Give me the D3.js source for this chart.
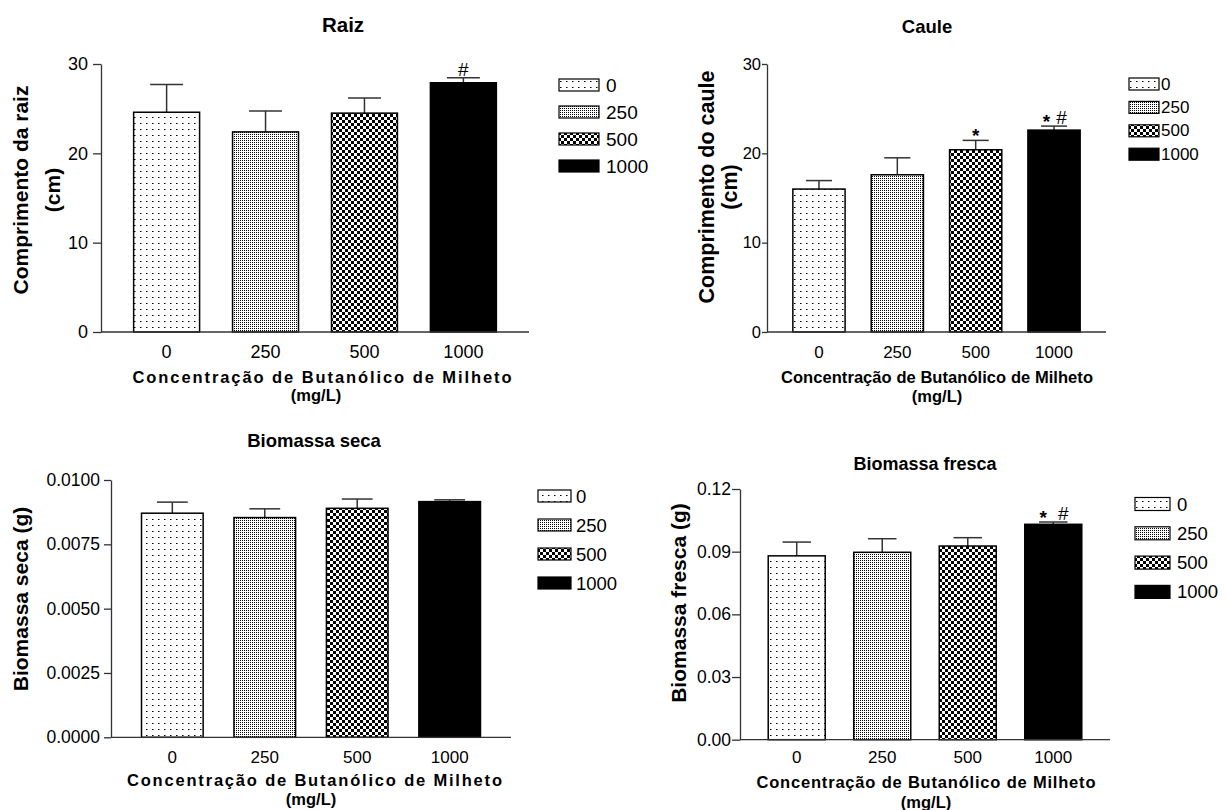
<!DOCTYPE html>
<html>
<head>
<meta charset="utf-8">
<script src="https://cdn.jsdelivr.net/npm/d3@7"></script>
<style>
  body { margin: 0; background: #fff; }
  text { font-family: "Liberation Sans", Arial, sans-serif; fill: #000; }
</style>
</head>
<body>
<svg id="chart" width="1225" height="810"></svg>
<script>
// data
const categories = ["0", "250", "500", "1000"];

const raizMean = [24.6, 22.4, 24.5, 27.9];
const raizErr = [3.1, 2.35, 1.7, 0.55];
const raizMarks = ["", "", "", "#"];
const raizTicks = [0, 10, 20, 30];

const cauleMean = [16.0, 17.6, 20.4, 22.6];
const cauleErr = [0.95, 1.9, 1.05, 0.45];
const cauleMarks = ["", "", "*", "*#"];
const cauleTicks = [0, 10, 20, 30];

const secaMean = [0.00871, 0.00854, 0.00890, 0.00916];
const secaErr = [0.00043, 0.00034, 0.00036, 0.00007];
const secaMarks = ["", "", "", ""];
const secaTicks = [0, 0.0025, 0.005, 0.0075, 0.01];

const frescaMean = [0.0880, 0.0897, 0.0927, 0.1031];
const frescaErr = [0.0066, 0.0065, 0.0040, 0.0011];
const frescaMarks = ["", "", "", "*#"];
const frescaTicks = [0, 0.03, 0.06, 0.09, 0.12];

const xTitle = "Concentração de Butanólico de Milheto";
const xUnit = "(mg/L)";

const svg = d3.select("#chart");

// fill patterns, one per concentration
const defs = svg.append("defs");
function pattern(id, w, h, cells) {
  const p = defs.append("pattern").attr("id", id)
    .attr("patternUnits", "userSpaceOnUse").attr("width", w).attr("height", h);
  p.append("rect").attr("width", w).attr("height", h).attr("fill", "#fff");
  cells.forEach(c => p.append("rect").attr("x", c[0]).attr("y", c[1])
    .attr("width", c[2]).attr("height", c[3]).attr("fill", "#000"));
}
pattern("pat0", 6, 6, [[2, 3, 1.5, 1]]);
pattern("pat1", 2, 2, [[0, 0, 1, 1]]);
pattern("pat2", 6, 6, [[0, 0, 3, 3], [3, 3, 3, 3]]);
pattern("pat3", 4, 4, [[0, 0, 4, 4]]);

const panels = [
  { title: "Raiz", tx: 343, ty: 24, tfs: 20.5,
    mean: raizMean, err: raizErr, marks: raizMarks, ticks: raizTicks, fmt: d3.format("d"), ymax: 30,
    x0: 101, x1: 529, yTop: 64, yBot: 332, tick: 8, tpad: 5, tfsY: 18, tfsX: 18, xLabY: 352,
    yTitle: ["Comprimento da raiz", "(cm)"], yTitleX: [20, 52], yTitleY: 190, yfs: 21,
    xtX: 322, xtY: 377, xtW: 379, xufX: 316, xuY: 395, xfs: 16.5,
    markGap: 15, markFs: 19,
    lx: 559, ly: 85, lw: 40, lh: 12, lstep: 27, ltx: 606, lfs: 19 },
  { title: "Caule", tx: 927, ty: 26, tfs: 18.5,
    mean: cauleMean, err: cauleErr, marks: cauleMarks, ticks: cauleTicks, fmt: d3.format("d"), ymax: 30,
    x0: 767, x1: 1106, yTop: 64, yBot: 332, tick: 5, tpad: 1, tfsY: 16.5, tfsX: 17, xLabY: 352,
    yTitle: ["Comprimento do caule", "(cm)"], yTitleX: [707, 730], yTitleY: 187, yfs: 21.5,
    xtX: 937, xtY: 377, xtW: 312, xufX: 937, xuY: 396, xfs: 16.5,
    markGap: 15, markFs: 19,
    lx: 1129, ly: 84, lw: 30, lh: 12, lstep: 23.4, ltx: 1161, lfs: 17 },
  { title: "Biomassa seca", tx: 314, ty: 440, tfs: 18.5,
    mean: secaMean, err: secaErr, marks: secaMarks, ticks: secaTicks, fmt: d3.format(".4f"), ymax: 0.01,
    x0: 111, x1: 511, yTop: 480, yBot: 737.3, tick: 7, tpad: 4, tfsY: 17.5, tfsX: 17, xLabY: 757,
    yTitle: ["Biomassa seca (g)"], yTitleX: [20], yTitleY: 599, yfs: 21,
    xtX: 314.5, xtY: 780, xtW: 375, xufX: 311, xuY: 799, xfs: 16.5,
    markGap: 20, markFs: 19,
    lx: 538, ly: 496, lw: 33, lh: 12, lstep: 29, ltx: 576, lfs: 18.5 },
  { title: "Biomassa fresca", tx: 925, ty: 464, tfs: 18,
    mean: frescaMean, err: frescaErr, marks: frescaMarks, ticks: frescaTicks, fmt: d3.format(".2f"), ymax: 0.12,
    x0: 740, x1: 1110, yTop: 489, yBot: 739.7, tick: 8, tpad: 1, tfsY: 17.5, tfsX: 17, xLabY: 757,
    yTitle: ["Biomassa fresca (g)"], yTitleX: [678], yTitleY: 603, yfs: 21,
    xtX: 926, xtY: 782, xtW: 339, xufX: 926, xuY: 802, xfs: 16.5,
    markGap: 20, markFs: 19,
    lx: 1135, ly: 504, lw: 35, lh: 13, lstep: 29.3, ltx: 1177, lfs: 18.5 }
];

panels.forEach(drawPanel);

function drawPanel(p) {
  const g = svg.append("g");
  const x = d3.scaleBand().domain(categories).range([p.x0, p.x1])
    .paddingInner(1 / 3).paddingOuter(0.33);
  const y = d3.scaleLinear().domain([0, p.ymax]).range([p.yBot, p.yTop]);
  const bw = x.bandwidth();
  const cx = i => x(categories[i]) + bw / 2;

  // error bars (upper only), drawn first so bar outlines sit on top
  const eb = g.append("g").attr("stroke", "#333").attr("stroke-width", 1.5);
  eb.selectAll("line.v").data(p.mean).join("line")
    .attr("x1", (d, i) => cx(i)).attr("x2", (d, i) => cx(i))
    .attr("y1", d => y(d)).attr("y2", (d, i) => y(d + p.err[i]));
  eb.selectAll("line.c").data(p.mean).join("line")
    .attr("x1", (d, i) => cx(i) - bw / 4).attr("x2", (d, i) => cx(i) + bw / 4)
    .attr("y1", (d, i) => y(d + p.err[i])).attr("y2", (d, i) => y(d + p.err[i]));

  g.selectAll("rect.bar").data(p.mean).join("rect")
    .attr("x", (d, i) => x(categories[i])).attr("width", bw)
    .attr("y", d => y(d)).attr("height", d => p.yBot - y(d))
    .attr("fill", (d, i) => `url(#pat${i})`)
    .attr("stroke", "#000").attr("stroke-width", 1.5);

  // significance marks
  p.marks.forEach((m, i) => {
    const chars = m.split("");
    const top = y(p.mean[i] + p.err[i]) - 9;
    chars.forEach((c, k) => {
      const off = (k - (chars.length - 1) / 2) * p.markGap;
      g.append("text").attr("x", cx(i) + off)
        .attr("y", top + (c === "*" ? 0.58 : 0.36) * p.markFs)
        .attr("text-anchor", "middle").attr("font-size", p.markFs)
        .attr("font-weight", c === "*" ? "bold" : "normal").text(c);
    });
  });

  // y axis
  const ya = g.append("g").attr("transform", `translate(${p.x0},0)`)
    .call(d3.axisLeft(y).tickValues(p.ticks).tickFormat(p.fmt)
      .tickSize(p.tick).tickSizeOuter(0).tickPadding(p.tpad));
  ya.attr("font-family", null).attr("font-size", null);
  ya.selectAll("path, line").attr("stroke", "#333").attr("stroke-width", 1.3);
  ya.selectAll("text").attr("font-size", p.tfsY).attr("fill", "#000");

  // x axis (no ticks)
  const xa = g.append("g").attr("transform", `translate(0,${p.yBot})`)
    .call(d3.axisBottom(x).tickSize(0).tickSizeOuter(0));
  xa.attr("font-family", null).attr("font-size", null);
  xa.select(".domain").attr("stroke", "#333").attr("stroke-width", 1.3)
    .attr("d", `M${p.x0},0H${p.x1}`);
  xa.selectAll("text").attr("font-size", p.tfsX).attr("fill", "#000")
    .attr("y", p.xLabY - p.yBot).attr("dy", "0.35em");

  // titles
  g.append("text").attr("x", p.tx).attr("y", p.ty).attr("text-anchor", "middle")
    .attr("dominant-baseline", "central").attr("font-weight", "bold")
    .attr("font-size", p.tfs).text(p.title);

  p.yTitle.forEach((t, k) => {
    g.append("text").attr("transform", `translate(${p.yTitleX[k]},${p.yTitleY}) rotate(-90)`)
      .attr("text-anchor", "middle").attr("dominant-baseline", "central")
      .attr("font-weight", "bold").attr("font-size", p.yfs).text(t);
  });

  g.append("text").attr("x", p.xtX).attr("y", p.xtY).attr("text-anchor", "middle")
    .attr("dominant-baseline", "central").attr("font-weight", "bold")
    .attr("font-size", p.xfs).attr("textLength", p.xtW).attr("lengthAdjust", "spacing")
    .text(xTitle);
  g.append("text").attr("x", p.xufX).attr("y", p.xuY).attr("text-anchor", "middle")
    .attr("dominant-baseline", "central").attr("font-weight", "bold")
    .attr("font-size", p.xfs).text(xUnit);

  // legend
  const lg = g.append("g");
  categories.forEach((c, i) => {
    const yy = p.ly + i * p.lstep;
    lg.append("rect").attr("x", p.lx).attr("y", yy - p.lh / 2)
      .attr("width", p.lw).attr("height", p.lh)
      .attr("fill", `url(#pat${i})`).attr("stroke", "#000").attr("stroke-width", 1.2);
    lg.append("text").attr("x", p.ltx).attr("y", yy).attr("dominant-baseline", "central")
      .attr("font-size", p.lfs).text(c);
  });
}
</script>
</body>
</html>
